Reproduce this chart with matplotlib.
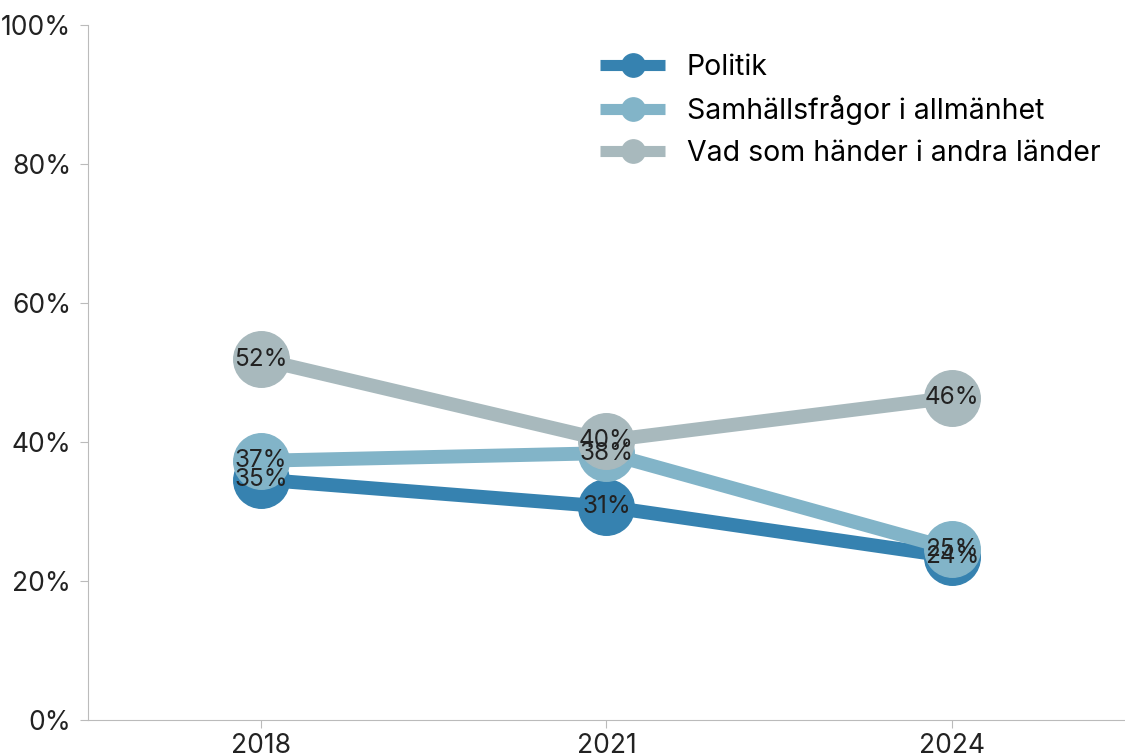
import matplotlib.pyplot as plt
from matplotlib.ticker import PercentFormatter

years = ['2018', '2021', '2024']
politik = [34.6, 30.7, 23.5]
samhalle = [37.3, 38.4, 24.6]
andra_lander = [51.9, 40.2, 46.4]

series = [
    ('Politik', politik, '#3682b0'),
    ('Samhällsfrågor i allmänhet', samhalle, '#82b4c8'),
    ('Vad som händer i andra länder', andra_lander, '#a8b9bd'),
]

plt.rcParams['font.family'] = ['Inter', 'DejaVu Sans']

fig = plt.figure(figsize=(11.25, 7.56), dpi=100)
ax = fig.add_axes([0.0782, 0.0476, 0.9218, 0.9193])

x = list(range(len(years)))
for name, vals, col in series:
    ax.plot(x, vals, '-o', color=col, lw=10, ms=40, label=name,
            solid_capstyle='butt')

for name, vals, col in series:
    for xi, v in zip(x, vals):
        ax.text(xi, v, f'{round(v)}%', ha='center', va='center',
                fontsize=17.5, color='#222222', zorder=5)

ax.set_xlim(-0.5, 2.5)
ax.set_ylim(0, 100)
ax.set_xticks(x)
ax.set_xticklabels(years)
ax.set_yticks([0, 20, 40, 60, 80, 100])
ax.yaxis.set_major_formatter(PercentFormatter(decimals=0))
ax.tick_params(labelsize=19, colors='#bbbbbb', labelcolor='#222222', length=6)
ax.tick_params(axis='y', pad=6)
for s in ['top', 'right']:
    ax.spines[s].set_visible(False)
for s in ['left', 'bottom']:
    ax.spines[s].set_color('#bbbbbb')

leg = ax.legend(loc='upper left', bbox_to_anchor=(0.469, 0.995), frameon=False,
                fontsize=20.5, markerscale=0.42, handlelength=2.3,
                handletextpad=0.75, labelspacing=0.5)
for h in leg.get_lines():
    h.set_linewidth(8)

fig.savefig('out.png', dpi=100)
